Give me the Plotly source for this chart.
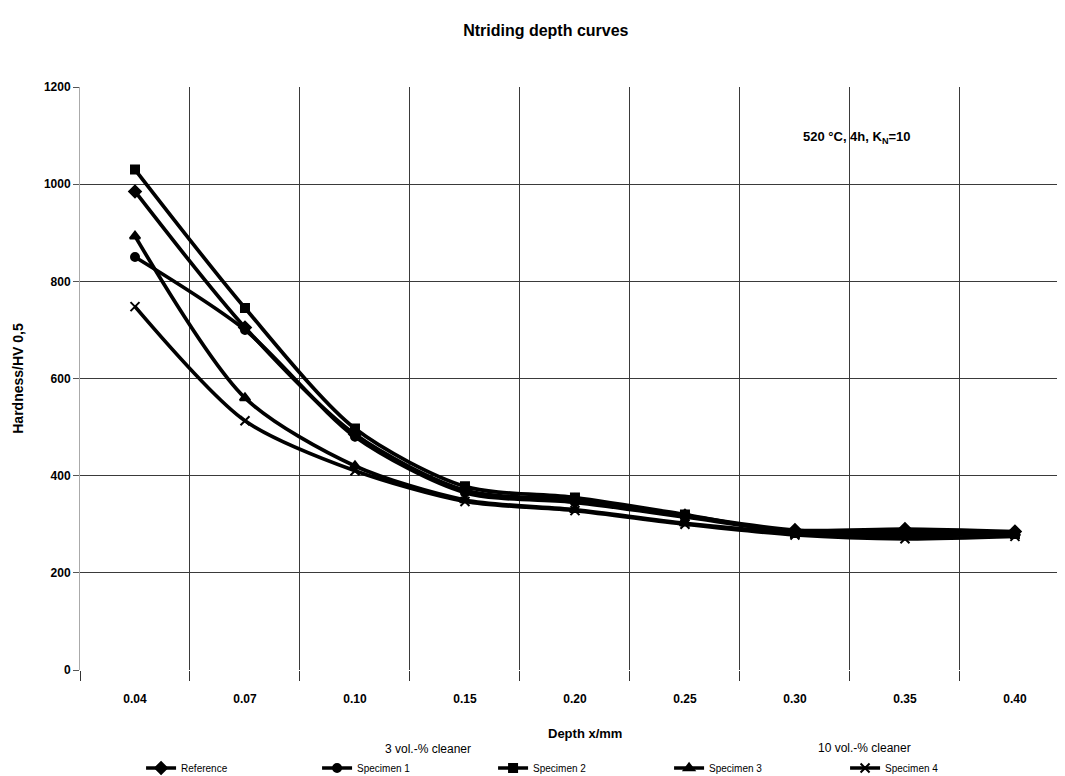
import plotly.graph_objects as go

depth = ["0.04", "0.07", "0.10", "0.15", "0.20", "0.25", "0.30", "0.35", "0.40"]
reference = [985, 705, 485, 370, 350, 318, 288, 290, 285]
specimen1 = [850, 700, 480, 365, 345, 315, 285, 285, 283]
specimen2 = [1030, 745, 497, 378, 355, 320, 282, 280, 280]
specimen3 = [893, 560, 420, 350, 330, 302, 283, 275, 282]
specimen4 = [748, 513, 410, 347, 328, 300, 278, 270, 275]
yticks = [0, 200, 400, 600, 800, 1000, 1200]

FONT = "Liberation Sans, Arial, sans-serif"

series = [
    ("Reference", reference, "diamond", 9),
    ("Specimen 1", specimen1, "circle", 8),
    ("Specimen 2", specimen2, "square", 8),
    ("Specimen 3", specimen3, "triangle-up", 9),
    ("Specimen 4", specimen4, "x-thin", 9),
]

fig = go.Figure()
for name, vals, sym, size in series:
    fig.add_trace(go.Scatter(
        x=depth, y=vals, name=name, mode="lines+markers",
        line=dict(color="black", width=3.7, shape="spline", smoothing=0.8),
        marker=dict(symbol=sym, size=size, color="black",
                    line=dict(color="black", width=2)),
    ))

fig.update_layout(
    width=1065, height=776,
    margin=dict(l=72, r=8, t=79, b=114, autoexpand=False),
    paper_bgcolor="white", plot_bgcolor="white",
    font=dict(family=FONT, size=13, color="black"),
    title=dict(text="Ntriding depth curves", x=0.505, xanchor="center",
               y=1 - 22 / 776, yanchor="middle",
               font=dict(size=16, family=FONT, weight="bold")),
    showlegend=True,
    legend=dict(orientation="h", x=0.062, xanchor="left", y=-(768 - 670) / 583,
                yanchor="middle",
                entrywidth=131, entrywidthmode="pixels",
                font=dict(size=10, family=FONT), itemwidth=30,
                bgcolor="rgba(0,0,0,0)", tracegroupgap=0),
)

fig.update_xaxes(
    type="category", categoryorder="array", categoryarray=depth,
    range=[-0.5, 8.455], automargin=False,
    tickson="boundaries", ticks="outside", ticklen=10, tickcolor="#333",
    showgrid=True, gridcolor="#3a3a3a", gridwidth=1.2,
    showline=False, zeroline=False,
    tickfont=dict(size=12, family=FONT, weight="bold"),
    ticklabelstandoff=20,
)
fig.update_yaxes(
    range=[0, 1200], tickvals=yticks, ticks="outside", ticklen=6, tickcolor="#555",
    automargin=False,
    showgrid=True, gridcolor="#3a3a3a", gridwidth=1.2,
    showline=True, linecolor="#aaaaaa", linewidth=1, zeroline=False,
    tickfont=dict(size=12, family=FONT, weight="bold"),
    title=dict(text="Hardness/HV 0,5", font=dict(size=14, family=FONT, weight="bold"),
               standoff=16),
)

fig.add_annotation(text="<b>Depth x/mm</b>", xref="paper", yref="paper",
                   x=(585 - 80) / 985, y=-(733 - 670) / 583, showarrow=False,
                   xanchor="center", yanchor="middle", font=dict(size=13, family=FONT))
fig.add_annotation(text="3 vol.-% cleaner", xref="paper", yref="paper",
                   x=(428 - 80) / 985, y=-(749 - 670) / 583, showarrow=False,
                   xanchor="center", yanchor="middle", font=dict(size=12, family=FONT))
fig.add_annotation(text="10 vol.-% cleaner", xref="paper", yref="paper",
                   x=(864 - 80) / 985, y=-(748 - 670) / 583, showarrow=False,
                   xanchor="center", yanchor="middle", font=dict(size=12, family=FONT))
fig.add_annotation(text="<b>520 °C, 4h, K<sub>N</sub>=10</b>", xref="paper", yref="paper",
                   x=(857 - 80) / 985, y=(670 - 137) / 583, showarrow=False,
                   xanchor="center", yanchor="middle", font=dict(size=13, family=FONT))

fig.write_html("out.html")
